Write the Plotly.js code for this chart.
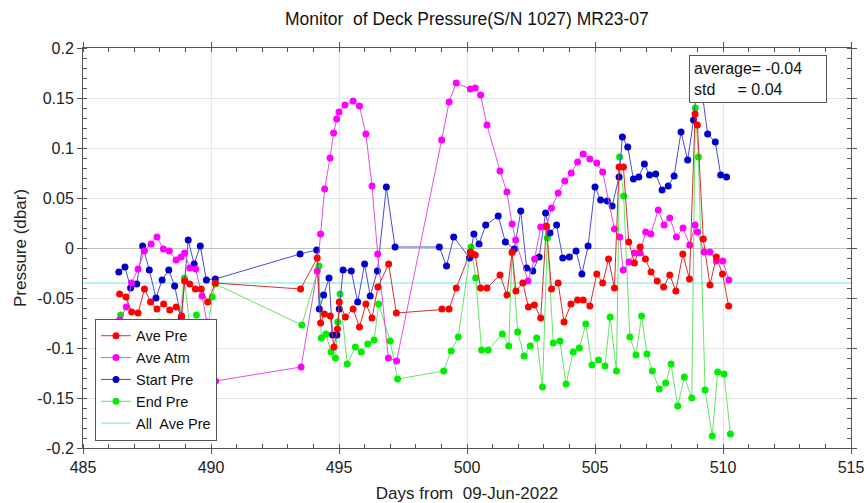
<!DOCTYPE html>
<html>
<head>
<meta charset="utf-8">
<script src="https://cdn.plot.ly/plotly-3.0.1.min.js"></script>
<style>html,body{margin:0;padding:0;background:#fff;}#chart{width:867px;height:503px;}</style>
</head>
<body>
<div id="chart"></div>
<script>
// ---- Data ----
var aveAtmDays = [486.43,486.69,486.9,487.15,487.4,487.66,487.89,488.14,488.37,488.64,488.83,488.97,489.17,489.4,489.65,489.84,490.07,490.18,
  493.52,494.15,494.28,494.44,494.65,494.79,494.91,495.0,495.23,495.55,495.8,496.05,496.29,496.51,496.93,497.25,
  499.01,499.3,499.58,500.13,500.32,500.53,500.78,501.29,501.56,501.76,501.9,502.38,502.64,502.88,503.1,503.3,503.56,503.82,504.07,504.32,504.54,504.8,505.07,505.3,
  505.76,505.97,506.1,506.33,506.54,506.76,506.98,507.18,507.47,507.7,507.92,508.18,508.44,508.7,508.91,509.0,509.26,509.49,509.74,509.99,510.23];
var aveAtm = [-0.072,-0.059,-0.035,-0.021,-0.003,0.004,0.011,-0.001,-0.003,-0.012,-0.009,-0.005,-0.020,-0.021,-0.048,-0.074,-0.110,-0.133,
  -0.119,-0.023,0.014,0.059,0.090,0.115,0.129,0.136,0.143,0.147,0.142,0.114,0.062,-0.006,-0.110,-0.113,
  0.108,0.146,0.165,0.159,0.160,0.153,0.123,0.077,0.056,0.024,0.008,-0.033,-0.011,0.021,0.021,0.040,0.055,0.067,0.075,0.086,0.094,0.089,0.085,0.076,
  0.019,0.011,-0.022,-0.014,-0.005,-0.005,0.016,0.014,0.038,0.023,0.030,0.011,0.020,0.003,0.023,0.016,-0.004,-0.004,-0.013,-0.013,-0.032];

var startDays = [486.4,486.64,486.86,487.1,487.33,487.59,487.85,488.09,488.35,488.58,488.84,489.11,489.34,489.58,489.82,490.17,
  493.48,494.13,494.23,494.4,494.61,494.75,494.92,495.01,495.16,495.48,495.73,496.0,496.22,496.5,496.85,497.19,
  498.92,499.2,499.48,500.1,500.27,500.47,500.73,501.22,501.5,501.85,502.1,502.33,502.57,502.82,
  503.07,503.24,503.5,503.74,504.0,504.26,504.49,504.73,505.0,505.22,505.48,505.67,505.94,506.07,506.28,506.5,506.71,506.93,507.13,507.37,507.62,507.86,508.09,508.36,508.62,508.85,508.95,509.17,509.4,509.7,509.91,510.14];
var startPre = [-0.024,-0.019,-0.040,-0.036,0.002,-0.022,-0.050,-0.032,-0.022,-0.038,-0.070,0.008,-0.016,0.002,-0.032,-0.031,
  -0.006,-0.002,-0.061,-0.047,-0.030,-0.087,-0.087,-0.061,-0.022,-0.023,-0.054,-0.016,-0.048,-0.023,0.061,0.001,
  0.001,-0.018,0.011,-0.010,0.014,0.004,0.023,0.032,0.006,-0.001,0.037,-0.020,-0.023,-0.009,
  0.035,0.015,0.023,-0.010,-0.009,-0.003,-0.026,0.002,0.061,0.048,0.047,0.042,0.071,0.111,0.101,0.069,0.071,0.084,0.073,0.074,0.058,0.062,0.072,0.116,0.088,0.128,0.154,0.158,0.114,0.106,0.073,0.071];

var aveDays = [486.43,486.68,486.9,487.15,487.4,487.64,487.89,488.15,488.39,488.64,488.85,488.97,489.17,489.39,489.62,489.87,490.17,
  493.5,494.15,494.28,494.43,494.66,494.8,494.94,495.01,495.25,495.55,495.8,496.05,496.29,496.52,496.94,497.24,
  499.02,499.3,499.58,500.13,500.22,500.32,500.53,500.78,501.29,501.56,501.76,501.91,502.18,502.4,502.63,502.88,
  503.1,503.3,503.56,503.79,504.06,504.32,504.54,504.8,505.07,505.3,505.53,505.76,505.94,506.11,506.32,506.54,506.76,506.97,507.19,507.43,507.68,507.92,508.16,508.43,508.69,508.91,509.0,509.23,509.49,509.74,509.98,510.22];
var avePre = [-0.046,-0.049,-0.064,-0.065,-0.041,-0.054,-0.061,-0.056,-0.062,-0.059,-0.068,-0.033,-0.036,-0.041,-0.041,-0.054,-0.035,
  -0.041,-0.010,-0.075,-0.066,-0.068,-0.099,-0.081,-0.054,-0.069,-0.061,-0.079,-0.056,-0.070,-0.039,-0.016,-0.065,
  -0.061,-0.061,-0.040,-0.004,-0.006,-0.007,-0.040,-0.040,-0.027,-0.047,-0.004,-0.043,-0.035,-0.059,-0.057,-0.070,
  0.022,-0.041,-0.035,-0.074,-0.056,-0.052,-0.052,-0.058,-0.026,-0.035,-0.011,-0.040,0.081,0.081,0.006,-0.015,0.001,-0.011,-0.024,-0.033,-0.039,-0.027,-0.043,-0.006,-0.031,0.134,0.123,0.009,-0.037,-0.009,-0.026,-0.058];

var endDays = [486.47,486.77,486.94,487.2,487.45,487.71,487.95,488.22,488.4,488.71,488.96,489.19,489.43,489.69,489.91,490.05,490.17,
  493.55,494.22,494.31,494.49,494.69,494.86,494.95,495.04,495.32,495.64,495.87,496.12,496.37,496.55,497.0,497.29,
  499.09,499.38,499.66,500.16,500.34,500.57,500.83,501.38,501.63,501.76,501.98,502.23,502.47,502.72,502.95,
  503.14,503.37,503.63,503.87,504.15,504.39,504.64,504.88,505.14,505.39,505.59,505.84,505.96,506.12,506.36,506.6,506.82,507.03,507.24,507.51,507.76,507.97,508.23,508.49,508.78,508.92,509.04,509.3,509.58,509.79,510.04,510.29];
var endPre = [-0.067,-0.079,-0.088,-0.093,-0.084,-0.085,-0.074,-0.079,-0.103,-0.081,-0.030,-0.083,-0.067,-0.085,-0.076,-0.049,-0.036,
  -0.077,-0.018,-0.090,-0.086,-0.104,-0.110,-0.074,-0.046,-0.116,-0.099,-0.104,-0.096,-0.092,-0.056,-0.093,-0.131,
  -0.123,-0.103,-0.089,0.001,-0.030,-0.102,-0.102,-0.086,-0.098,-0.005,-0.084,-0.108,-0.098,-0.090,-0.139,
  0.010,-0.095,-0.093,-0.136,-0.104,-0.100,-0.076,-0.117,-0.112,-0.118,-0.069,-0.123,0.091,0.052,-0.089,-0.107,-0.068,-0.106,-0.123,-0.141,-0.135,-0.116,-0.158,-0.129,-0.150,0.140,0.091,-0.142,-0.188,-0.124,-0.126,-0.186];

var allAvePre = -0.035;
var xRange = [485, 515];
var yTickVals = [0.2, 0.15, 0.1, 0.05, 0, -0.05, -0.1, -0.15, -0.2];
var yTickText = ['0.2', '0.15', '0.1', '0.05', '0', '-0.05', '-0.1', '-0.15', '-0.2'];
var statAverage = '-0.04';
var statStd = '0.04';

// ---- Traces ----
var F = 'Liberation Sans, Arial, sans-serif';
function series(name, xs, ys, mk, ln) {
  return {type: 'scatter', mode: 'lines+markers', name: name, x: xs, y: ys,
    marker: {color: mk, size: 7}, line: {color: ln, width: 1}};
}
var traces = [
  {type: 'scatter', mode: 'lines', name: 'All\u00a0 Ave Pre', x: xRange, y: [allAvePre, allAvePre],
    line: {color: '#70e6e6', width: 1}},
  series('End Pre', endDays, endPre, '#00ee00', '#66e466'),
  series('Start Pre', startDays, startPre, '#0000cc', '#4a4ae0'),
  series('Ave Atm', aveAtmDays, aveAtm, '#ff00ff', '#e050e0'),
  series('Ave Pre', aveDays, avePre, '#ff0000', '#d83030')
];

var axisCommon = {
  showline: true, linecolor: '#555', linewidth: 1, mirror: 'allticks',
  ticks: 'outside', ticklen: 5, tickcolor: '#555',
  showgrid: true, gridcolor: '#e6e6e6', gridwidth: 1,
  tickfont: {family: F, size: 16, color: '#222'}
};

var layout = {
  width: 867, height: 503,
  margin: {l: 83, r: 16, t: 48, b: 55},
  paper_bgcolor: '#fff', plot_bgcolor: '#fff',
  font: {family: F, color: '#222'},
  showlegend: true,
  title: {text: 'Monitor\u00a0 of Deck Pressure(S/N 1027) MR23-07', font: {family: F, size: 17.5, color: '#111'},
    x: 0.5385, xanchor: 'center', y: 0.963, yanchor: 'middle'},
  xaxis: Object.assign({}, axisCommon, {
    range: xRange, dtick: 5, tick0: 485, zeroline: false,
    minor: {dtick: 1, ticks: 'inside', ticklen: 4, tickcolor: '#555', showgrid: false},
    title: {text: 'Days from\u00a0 09-Jun-2022', font: {family: F, size: 17, color: '#222'}, standoff: 12}
  }),
  yaxis: Object.assign({}, axisCommon, {
    range: [-0.2, 0.2], tickmode: 'array', tickvals: yTickVals, ticktext: yTickText,
    zeroline: true, zerolinecolor: '#c4c4c4', zerolinewidth: 1,
    minor: {tickmode: 'linear', tick0: 0, dtick: 0.01, ticks: 'inside', ticklen: 4, tickcolor: '#555', showgrid: false},
    title: {text: 'Pressure (dbar)', font: {family: F, size: 17, color: '#222'}, standoff: 6}
  }),
  legend: {
    x: 0.0156, y: 0.018, xanchor: 'left', yanchor: 'bottom',
    traceorder: 'reversed', bgcolor: '#fff', bordercolor: '#555', borderwidth: 1,
    font: {family: F, size: 14.5, color: '#111'}, itemwidth: 30, tracegroupgap: 0
  },
  annotations: [{
    xref: 'paper', yref: 'paper', x: 0.789, y: 0.9825, xanchor: 'left', yanchor: 'top',
    text: 'average= ' + statAverage + '<br>std\u00a0\u00a0\u00a0\u00a0\u00a0= ' + statStd,
    showarrow: false, align: 'left', width: 128, bgcolor: '#fff', bordercolor: '#555', borderwidth: 1, borderpad: 4,
    font: {family: F, size: 16, color: '#111'}
  }]
};

Plotly.newPlot('chart', traces, layout, {displayModeBar: false, staticPlot: true});
</script>
</body>
</html>
